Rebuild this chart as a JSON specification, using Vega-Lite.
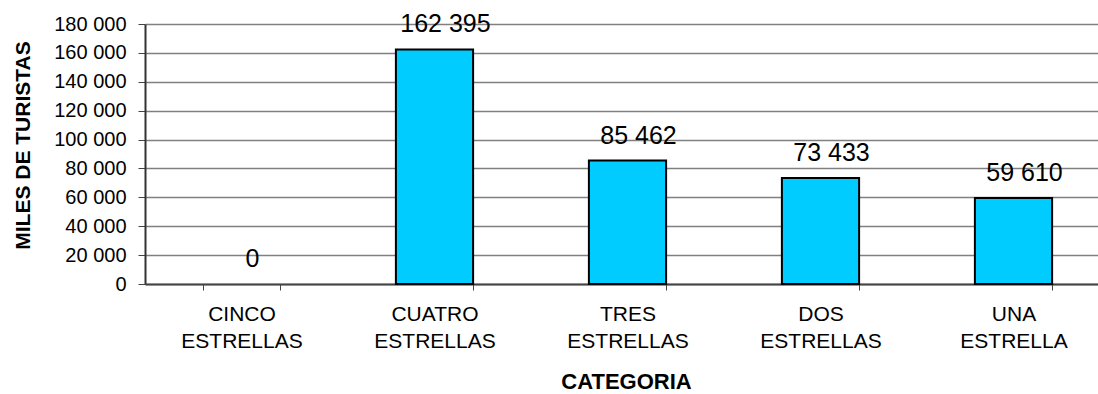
{
  "$schema": "https://vega.github.io/schema/vega-lite/v6.json",
  "autosize": "none",
  "width": 953,
  "height": 260,
  "padding": {"left": 145, "top": 24, "right": 0, "bottom": 110},
  "background": "white",
  "config": {
    "font": "Liberation Sans",
    "view": {"stroke": null}
  },
  "data": {
    "values": [
      {"categoria": "CINCO ESTRELLAS", "turistas": 0},
      {"categoria": "CUATRO ESTRELLAS", "turistas": 162395},
      {"categoria": "TRES ESTRELLAS", "turistas": 85462},
      {"categoria": "DOS ESTRELLAS", "turistas": 73433},
      {"categoria": "UNA ESTRELLA", "turistas": 59610}
    ]
  },
  "encoding": {
    "x": {
      "field": "categoria",
      "type": "nominal",
      "sort": null,
      "scale": {"range": [0, 965], "paddingInner": 0.6, "paddingOuter": 0.3},
      "axis": {
        "title": "CATEGORIA",
        "titleFont": "Liberation Sans",
        "titleFontSize": 22,
        "titleFontWeight": "bold",
        "titleColor": "black",
        "titleX": 481,
        "titleY": 104,
        "titleBaseline": "alphabetic",
        "labelAngle": 0,
        "labelExpr": "split(datum.label, ' ')",
        "labelFontSize": 21,
        "labelColor": "black",
        "labelLineHeight": 27,
        "labelPadding": 13,
        "labelBaseline": "top",
        "tickBand": "extent",
        "tickSize": 6,
        "tickColor": "#444",
        "domainColor": "#444",
        "domainWidth": 2,
        "grid": false
      }
    },
    "y": {
      "field": "turistas",
      "type": "quantitative",
      "scale": {"domain": [0, 180000], "nice": false},
      "axis": {
        "title": "MILES DE TURISTAS",
        "titleFontSize": 21,
        "titleFontWeight": "bold",
        "titleColor": "black",
        "titleX": -122,
        "titleY": 121,
        "titleAngle": -90,
        "titleBaseline": "middle",
        "values": [0, 20000, 40000, 60000, 80000, 100000, 120000, 140000, 160000, 180000],
        "labelExpr": "replace(format(datum.value, ','), ',', ' ')",
        "labelFontSize": 20,
        "labelColor": "black",
        "labelPadding": 12,
        "tickSize": 7,
        "tickColor": "#444",
        "domainColor": "#333",
        "domainWidth": 2,
        "grid": true,
        "gridColor": "#808080",
        "gridWidth": 1.5
      }
    }
  },
  "layer": [
    {
      "mark": {"type": "bar", "color": "#00CCFF", "stroke": "black", "strokeWidth": 2},
      "encoding": {
        "strokeOpacity": {"condition": {"test": "datum.turistas == 0", "value": 0}, "value": 1}
      }
    },
    {
      "mark": {
        "type": "text",
        "fontSize": 25,
        "color": "black",
        "baseline": "alphabetic",
        "dx": 11,
        "dy": -17,
        "text": {"expr": "replace(format(datum.turistas, ','), ',', ' ')"}
      }
    }
  ]
}
